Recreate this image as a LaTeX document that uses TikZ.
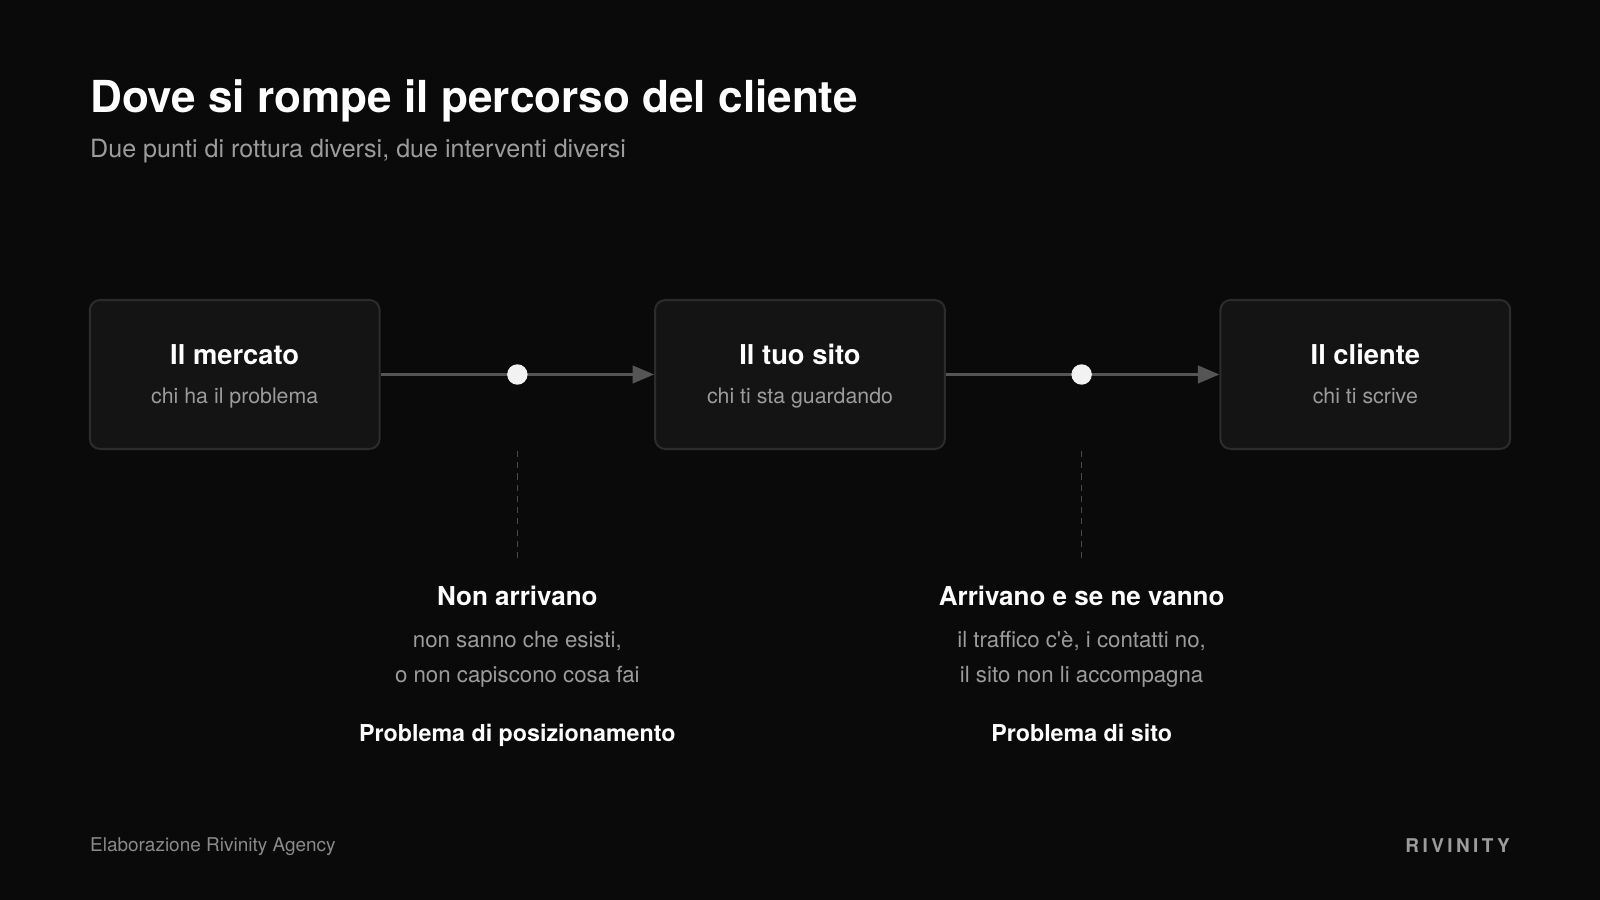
\documentclass[tikz,border=0pt]{standalone}
\usepackage{fontspec}
\setmainfont{TeX Gyre Heros}
\usetikzlibrary{arrows.meta}
\definecolor{bg}{HTML}{0A0A0A}
\definecolor{boxfill}{HTML}{141414}
\definecolor{boxline}{HTML}{2C2C2C}
\definecolor{linec}{HTML}{555555}
\definecolor{dashc}{HTML}{4A4A4A}
\definecolor{subc}{HTML}{9C9C9C}
\definecolor{footc}{HTML}{8A8A8A}
\definecolor{dotc}{HTML}{F2F2F2}
\tikzset{
  stagebox/.style={draw=boxline, line width=1pt, fill=boxfill, rounded corners=5pt, minimum width=142pt, minimum height=73pt, inner sep=0pt},
  stagetitle/.style={anchor=base, text=white, font=\fontsize{13.4}{16}\selectfont\bfseries, inner sep=0pt},
  stagesub/.style={anchor=base, text=subc, font=\fontsize{10.45}{12}\selectfont, inner sep=0pt},
  flow/.style={draw=linec, line width=1.5pt, -{Triangle[length=10.5pt,width=8.5pt]}},
  breakdot/.style={circle, fill=dotc, minimum size=10pt, inner sep=0pt},
  guide/.style={draw=dashc, line width=0.6pt, dash pattern=on 3pt off 2.5pt},
  bktitle/.style={anchor=base, text=white, font=\fontsize{12.75}{15}\selectfont\bfseries, inner sep=0pt},
  bksub/.style={text=subc, font=\fontsize{10.9}{17}\selectfont, align=center, inner sep=0pt},
  bkprob/.style={anchor=base, text=white, font=\fontsize{11.4}{14}\selectfont\bfseries, inner sep=0pt},
}
\begin{document}
\begin{tikzpicture}[x=0.5pt,y=-0.5pt]
\fill[bg] (0,0) rectangle (1568,882);
\useasboundingbox (0,0) rectangle (1568,882);

\node[anchor=base west, text=white, font=\fontsize{21.6}{25}\selectfont\bfseries, inner sep=0pt] (title) at (88,110) {Dove si rompe il percorso del cliente};
\node[anchor=base west, text=subc, font=\fontsize{12.3}{15}\selectfont, inner sep=0pt] (subtitle) at (88,154) {Due punti di rottura diversi, due interventi diversi};

\node[stagebox] (b1) at (230,367) {};
\node[stagebox] (b2) at (784,367) {};
\node[stagebox] (b3) at (1338,367) {};

\node[stagetitle] (t1) at (230,357.5) {Il mercato};
\node[stagesub] (s1) at (230,395) {chi ha il problema};
\node[stagetitle] (t2) at (784,357.5) {Il tuo sito};
\node[stagesub] (s2) at (784,395) {chi ti sta guardando};
\node[stagetitle] (t3) at (1338,357.5) {Il cliente};
\node[stagesub] (s3) at (1338,395) {chi ti scrive};

\draw[flow] (b1.east) -- (b2.west);
\draw[flow] (b2.east) -- (b3.west);
\node[breakdot] (d1) at (507,367) {};
\node[breakdot] (d2) at (1060,367) {};

\coordinate (g1a) at (507,442);
\coordinate (g1b) at (507,548);
\coordinate (g2a) at (1060,442);
\coordinate (g2b) at (1060,548);
\draw[guide] (g1a) -- (g1b);
\draw[guide] (g2a) -- (g2b);

\node[bktitle] (k1) at (507,593.5) {Non arrivano};
\node[bksub] (k1s) at (507,646) {non sanno che esisti,\\o non capiscono cosa fai};
\node[bkprob] (k1p) at (507,726.5) {Problema di posizionamento};

\node[bktitle] (k2) at (1060,593.5) {Arrivano e se ne vanno};
\node[bksub] (k2s) at (1060,646) {il traffico c\textquotesingle è, i contatti no,\\il sito non li accompagna};
\node[bkprob] (k2p) at (1060,726.5) {Problema di sito};

\node[anchor=west, text=footc, font=\fontsize{9.3}{11}\selectfont, inner sep=0pt] (foot) at (88,830) {Elaborazione Rivinity Agency};
\node[anchor=east, text=subc, font=\fontsize{9.3}{11}\selectfont\bfseries\addfontfeatures{LetterSpace=18}, inner sep=0pt] (brand) at (1480,829) {RIVINITY};
\end{tikzpicture}
\end{document}
